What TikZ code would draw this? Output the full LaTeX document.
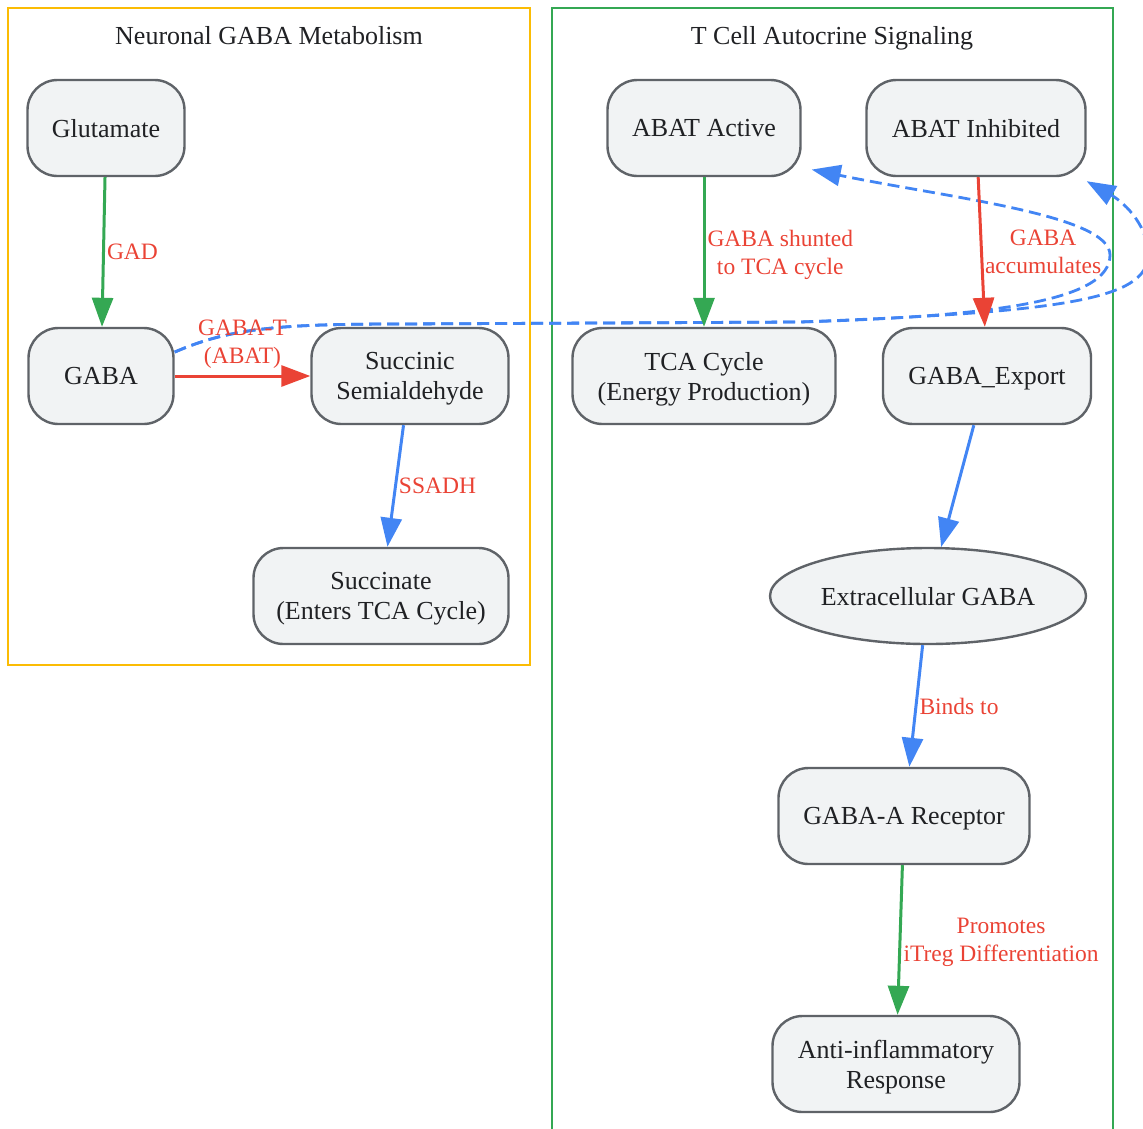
\documentclass[tikz,border=0pt]{standalone}
\usepackage{fontspec}
\setmainfont{Liberation Serif}
\usepackage{tikz}
\usetikzlibrary{arrows.meta, calc, shapes.geometric, positioning}
\definecolor{gGreen}{HTML}{34A853}
\definecolor{gRed}{HTML}{EA4335}
\definecolor{gBlue}{HTML}{4285F4}
\definecolor{gYellow}{HTML}{FBBC04}
\definecolor{boxFill}{HTML}{F1F3F4}
\definecolor{boxLine}{HTML}{5F6368}
\definecolor{txtGray}{HTML}{202124}

\begin{document}
\begin{tikzpicture}[x=1pt, y=-1pt,
    box/.style={draw=boxLine, fill=boxFill, line width=2.4pt, rounded corners=30pt,
      minimum height=96pt, inner sep=0pt, align=center, text=txtGray, text depth=0pt,
      font=\fontsize{26}{30}\selectfont},
    oval/.style={box, ellipse, sharp corners},
    flow/.style={line width=3pt, -{Triangle[length=29pt, width=21pt]}},
    loop/.style={gBlue, line width=2.8pt, dash pattern=on 12pt off 6pt,
      -{Triangle[length=29pt, width=21pt]}},
    lbl/.style={text=gRed, align=center, inner sep=2pt, text depth=0pt,
      font=\fontsize{23.5}{28}\selectfont},
    title/.style={text=txtGray, text depth=0pt, font=\fontsize{26}{30}\selectfont}]
        \useasboundingbox (0,0) rectangle (1143,1128);
        % Clusters
        \draw[gYellow, line width=2.8pt] (8,8) rectangle (530,665);
        \draw[gGreen, line width=2.8pt] (552,8) rectangle (1113,1150);
        \node[title] (neurotitle) at (269,35) {Neuronal GABA Metabolism};
        \node[title] (tcelltitle) at (832,35) {T Cell Autocrine Signaling};
        % Neuron nodes
        \node[box, minimum width=157pt] (glu) at (106,128) {Glutamate};
        \node[box, minimum width=145pt] (gaba) at (101,376) {GABA};
        \node[box, minimum width=197pt] (ssa) at (410,376) {Succinic\\Semialdehyde};
        \node[box, minimum width=255pt] (succ) at (381,596) {Succinate\\(Enters TCA Cycle)};
        % T cell nodes
        \node[box, minimum width=193pt] (abatact) at (704,128) {ABAT Active};
        \node[box, minimum width=219pt] (abatinh) at (976,128) {ABAT Inhibited};
        \node[box, minimum width=263pt] (tca) at (704,376) {TCA Cycle\\(Energy Production)};
        \node[box, minimum width=208pt] (gabaexp) at (987,376) {GABA\_Export};
        \node[oval, minimum width=316pt] (extra) at (928,596) {Extracellular GABA};
        \node[box, minimum width=251pt] (receptor) at (904,816) {GABA-A Receptor};
        \node[box, minimum width=247pt] (anti) at (896,1064) {Anti-inflammatory\\Response};
        % Dashed links back to ABAT
        \draw[loop] (gaba.18) .. controls (230,328) and (280,324) .. (400,324)
          -- (800,322) .. controls (1000,316) and (1110,300) .. (1110,255)
          .. controls (1110,215) and (950,198) .. ([shift={(10pt,-6pt)}]abatact.-20);
        \draw[loop] (gaba.18) .. controls (230,328) and (280,324) .. (400,324)
          -- (800,322) .. controls (1060,312) and (1148,300) .. (1148,255)
          .. controls (1148,222) and (1120,200) .. ([yshift=-4pt]abatinh.south east);
        % Metabolic edges
        \draw[flow, gGreen] (glu) -- (gaba) node[lbl, midway, anchor=west] {GAD};
        \draw[flow, gRed] (gaba) -- (ssa) node[lbl, midway, above=9pt] {GABA-T\\(ABAT)};
        \draw[flow, gBlue] (ssa) -- (succ) node[lbl, midway, anchor=west] {SSADH};
        \draw[flow, gGreen] (abatact) -- (tca) node[lbl, midway, anchor=west] {GABA shunted\\to TCA cycle};
        \draw[flow, gRed] (abatinh) -- (gabaexp) node[lbl, midway, anchor=west] {GABA\\accumulates};
        \draw[flow, gBlue] (gabaexp) -- (extra);
        \draw[flow, gBlue] (extra) -- (receptor) node[lbl, midway, anchor=west] {Binds to};
        \draw[flow, gGreen] (receptor) -- (anti) node[lbl, midway, anchor=west] {Promotes\\iTreg Differentiation};
\end{tikzpicture}
\end{document}
